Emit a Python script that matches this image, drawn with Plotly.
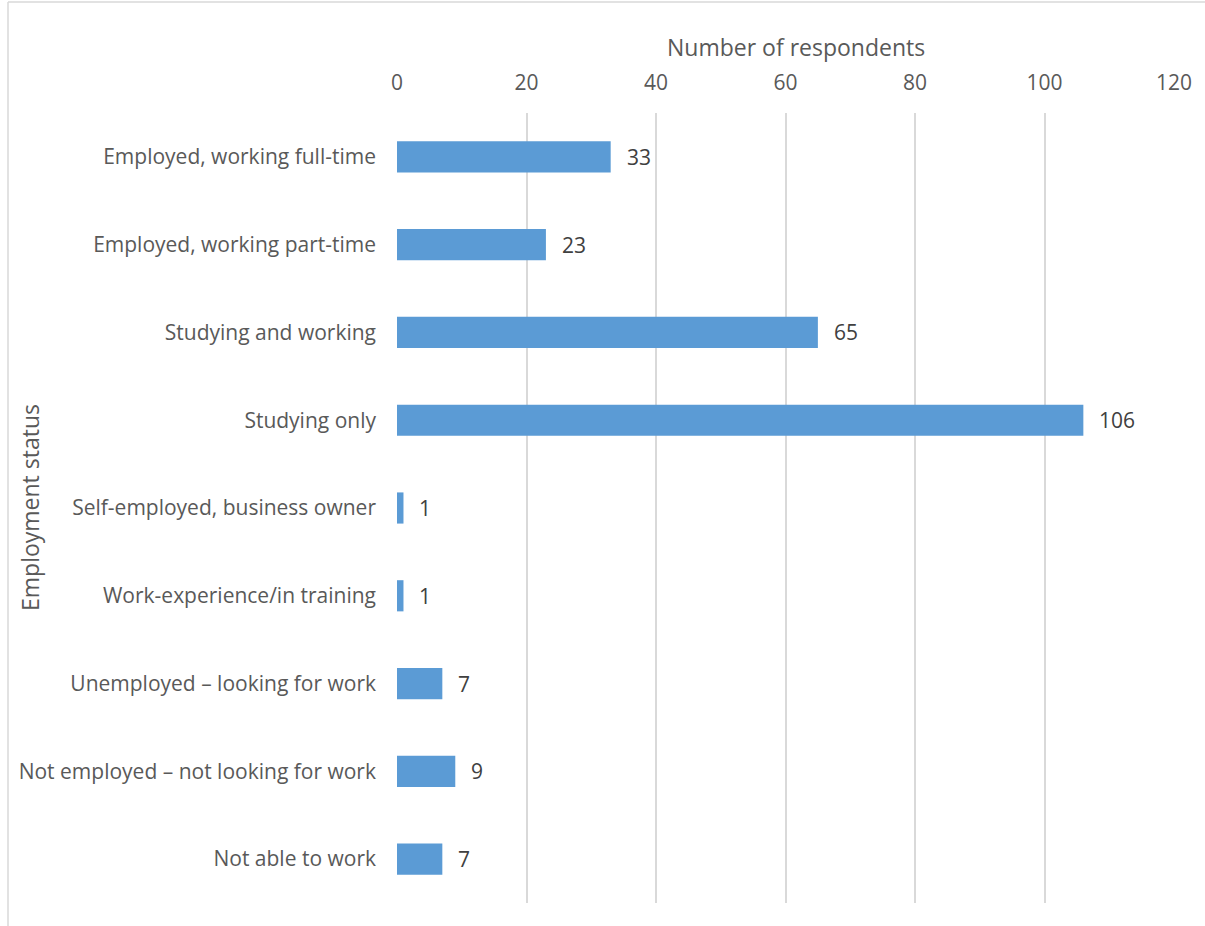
import plotly.graph_objects as go

# Employment status of survey respondents
categories = [
    "Employed, working full-time",
    "Employed, working part-time",
    "Studying and working",
    "Studying only",
    "Self-employed, business owner",
    "Work-experience/in training",
    "Unemployed \u2013 looking for work",
    "Not employed \u2013 not looking for work",
    "Not able to work",
]
respondents = [33, 23, 65, 106, 1, 1, 7, 9, 7]
x_ticks = [0, 20, 40, 60, 80, 100, 120]

W, H = 1205, 926
L, R, T, B = 397, 31, 113, 23
plot_w = W - L - R
plot_h = H - T - B

FONT = "Open Sans"
GREY = "#595959"
GRID = "#d9d9d9"
BAR = "#5B9BD5"
TICK_SIZE = 21
TITLE_SIZE = 23

fig = go.Figure(
    go.Bar(
        x=respondents,
        y=categories,
        orientation="h",
        marker=dict(color=BAR, line=dict(width=0)),
        hoverinfo="x+y",
    )
)

# value labels just to the right of each bar
for cat, val in zip(categories, respondents):
    fig.add_annotation(
        x=val, y=cat, text=str(val), showarrow=False,
        xanchor="left", yanchor="middle", xshift=14,
        font=dict(family=FONT, size=TICK_SIZE, color="#404040"),
    )

# axis titles
fig.add_annotation(
    xref="paper", yref="paper",
    x=(30 - L) / plot_w, y=0.5,
    text="Employment status", textangle=-90, showarrow=False,
    xanchor="center", yanchor="middle",
    font=dict(family=FONT, size=TITLE_SIZE, color=GREY),
)
fig.add_annotation(
    xref="paper", yref="paper",
    x=0.5, xshift=10, y=1 + (T - 47) / plot_h,
    text="Number of respondents", showarrow=False,
    xanchor="center", yanchor="middle",
    font=dict(family=FONT, size=TITLE_SIZE, color=GREY),
)

# chart frame (top and left edges)
fig.add_shape(type="line", xref="paper", yref="paper",
              x0=(8 - L) / plot_w, x1=(W + 5 - L) / plot_w,
              y0=1 + (T - 2) / plot_h, y1=1 + (T - 2) / plot_h,
              line=dict(color=GRID, width=1.5))
fig.add_shape(type="line", xref="paper", yref="paper",
              x0=(8 - L) / plot_w, x1=(8 - L) / plot_w,
              y0=1 + (T - 2) / plot_h, y1=-(B + 5) / plot_h,
              line=dict(color=GRID, width=1.5))

fig.update_layout(
    width=W, height=H,
    margin=dict(l=L, r=R, t=T, b=B),
    paper_bgcolor="white", plot_bgcolor="white",
    bargap=0.645,
    showlegend=False,
    font=dict(family=FONT, size=TICK_SIZE, color=GREY),
    xaxis=dict(
        side="top", range=[0, 120], tickvals=x_ticks,
        showgrid=True, gridcolor=GRID, gridwidth=1.5,
        zeroline=False, showline=False, ticks="",
        ticklabelstandoff=18,
        tickfont=dict(family=FONT, size=TICK_SIZE, color=GREY),
    ),
    yaxis=dict(
        categoryorder="array", categoryarray=categories,
        autorange="reversed",
        showgrid=False, zeroline=False, showline=False, ticks="",
        ticklabelstandoff=20,
        tickfont=dict(family=FONT, size=TICK_SIZE, color=GREY),
    ),
)

fig.write_html("out.html")
